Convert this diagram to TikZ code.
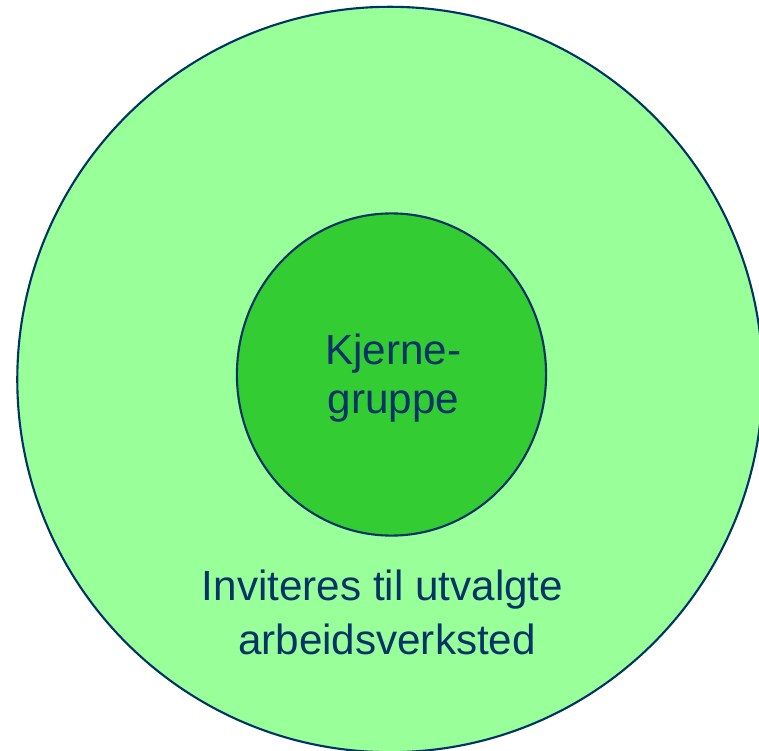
\documentclass[tikz,border=0pt]{standalone}
\usepackage{fontspec}
\setmainfont{Liberation Sans}
\usetikzlibrary{shapes.geometric}
\definecolor{ringgreen}{HTML}{99FF99}
\definecolor{coregreen}{HTML}{33CC33}
\definecolor{navy}{HTML}{003366}
\begin{document}
\begin{tikzpicture}[x=0.01cm,y=-0.01cm]
\tikzstyle{every node}+=[inner sep=0pt]
\tikzstyle{ring}=[draw=navy,line width=0.6pt]
\tikzstyle{label}=[text=navy,anchor=base,font=\fontsize{12}{14}\selectfont]
\useasboundingbox (0,0) rectangle (759,751);
\clip (0,0) rectangle (759,751);
\node [ring,fill=ringgreen,circle,minimum size=7.45cm] (outer) at (390,379.5) {};
\node [ring,fill=coregreen,ellipse,minimum width=3.09cm,minimum height=3.22cm] (core) at (391.5,374.5) {};
\node [label] (kjerne) at (393.5,365) {Kjerne-};
\node [label] (gruppe) at (393.5,414) {gruppe};
\node [label] (inviteres) at (382.5,601) {Inviteres til utvalgte};
\node [label] (verksted) at (387,655) {arbeidsverksted};
\end{tikzpicture}
\end{document}
